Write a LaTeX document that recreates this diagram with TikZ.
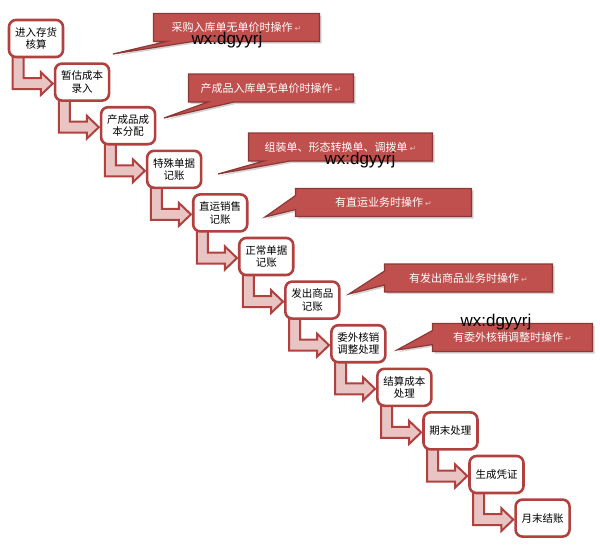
\documentclass[tikz,border=0pt]{standalone}
\usepackage{fontspec}
\setmainfont{Liberation Sans}
\newfontfamily\cjk{Noto Sans CJK SC}
\newfontfamily\marksym{DejaVu Sans}
\usetikzlibrary{calc,shapes.callouts,shadows,backgrounds}
\definecolor{boxred}{HTML}{B0413E}
\definecolor{notered}{HTML}{C0504D}
\definecolor{noteedge}{HTML}{8C3836}
\definecolor{flowpink}{HTML}{E8C4C3}
\newcommand{\retmark}{\,{\marksym\color{white!60!notered}\fontsize{8}{8}\selectfont ↵}}
\begin{document}
\begin{tikzpicture} [
                x=1pt, y=1pt,
                stage/.style={rectangle, rounded corners=7pt, draw=boxred, line width=2.6pt, fill=white,
                    minimum width=54pt, minimum height=37pt, inner sep=1pt, align=center,
                    font=\cjk\fontsize{10.5}{12.5}\selectfont},
                note/.style={rectangle callout, fill=notered, draw=noteedge, line width=1.2pt, text=white,
                    minimum height=28pt, inner sep=2pt, callout pointer width=26pt,
                    font=\cjk\fontsize{11}{13}\selectfont,
                    drop shadow={shadow xshift=2pt, shadow yshift=-2pt, opacity=0.35}},
                side note/.style={note, callout pointer width=14pt},
                flow/.style={draw=boxred, line width=2pt, fill=flowpink},
                wmark/.style={font=\fontsize{17}{17}\selectfont, text=black},
            ]
            \useasboundingbox (0,0) rectangle (600,-544);
            % First we draw the steps
            \foreach \n/\txt in {
                    1/{进入存货\\核算}, 2/{暂估成本\\录入}, 3/{产成品成\\本分配},
                    4/{特殊单据\\记账}, 5/{直运销售\\记账}, 6/{正常单据\\记账},
                    7/{发出商品\\记账}, 8/{委外核销\\调整处理}, 9/{结算成本\\处理},
                    10/{期末处理}, 11/{生成凭证}, 12/{月末结账}}
                \node[stage] (s\n) at ({36+46.05*(\n-1)},{-38.5-43.6*(\n-1)}) {\txt};
            % Connect steps with bent arrows
            \begin{scope}[on background layer]
            \foreach \source/\dest in {
                    s1/s2, s2/s3, s3/s4, s4/s5, s5/s6, s6/s7,
                    s7/s8, s8/s9, s9/s10, s10/s11, s11/s12}
                \path[flow] let \p1=(\source.south west), \p2=(\dest.west) in
                    (\x1+5pt,\y1+4pt) |- (\x2-13pt,\y2-7pt) -- (\x2-13pt,\y2-13pt)
                    -- (\x2-1pt,\y2-1.5pt) -- (\x2-13pt,\y2+10pt) -- (\x2-13pt,\y2+4pt)
                    -- (\x1+16pt,\y2+4pt) -- (\x1+16pt,\y1+4pt) -- cycle;
            \end{scope}
            % tips of the notes
            \coordinate (p1) at (113,-54);
            \coordinate (p2) at (164,-118);
            \coordinate (p3) at (218,-174);
            \coordinate (p4) at (265,-217);
            \coordinate (p5) at (349,-294);
            \coordinate (p6) at (397,-350);
            % notes
            \node[note, minimum width=166pt, callout absolute pointer={(p1)}] (n1) at (236.5,-27.5) {采购入库单无单价时操作\retmark};
            \node[note, minimum width=165pt, callout absolute pointer={(p2)}] (n2) at (271,-88) {产成品入库单无单价时操作\retmark};
            \node[note, minimum width=184pt, callout absolute pointer={(p3)}] (n3) at (340.5,-147) {组装单、形态转换单、调拨单\retmark};
            \node[side note, minimum width=176pt, callout absolute pointer={(p4)}] (n4) at (383.5,-202.5) {有直运业务时操作\retmark};
            \node[side note, minimum width=168pt, callout absolute pointer={(p5)}] (n5) at (468.5,-278) {有发出商品业务时操作\retmark};
            \node[side note, minimum width=160pt, callout absolute pointer={(p6)}] (n6) at (512.5,-337.5) {有委外核销调整时操作\retmark};
            % watermarks
            \foreach \k/\pos in {1/{(227,-40)}, 2/{(360,-160)}, 3/{(496,-322)}}
                \node[wmark] (w\k) at \pos {wx:dgyyrj};
        \end{tikzpicture}
\end{document}
